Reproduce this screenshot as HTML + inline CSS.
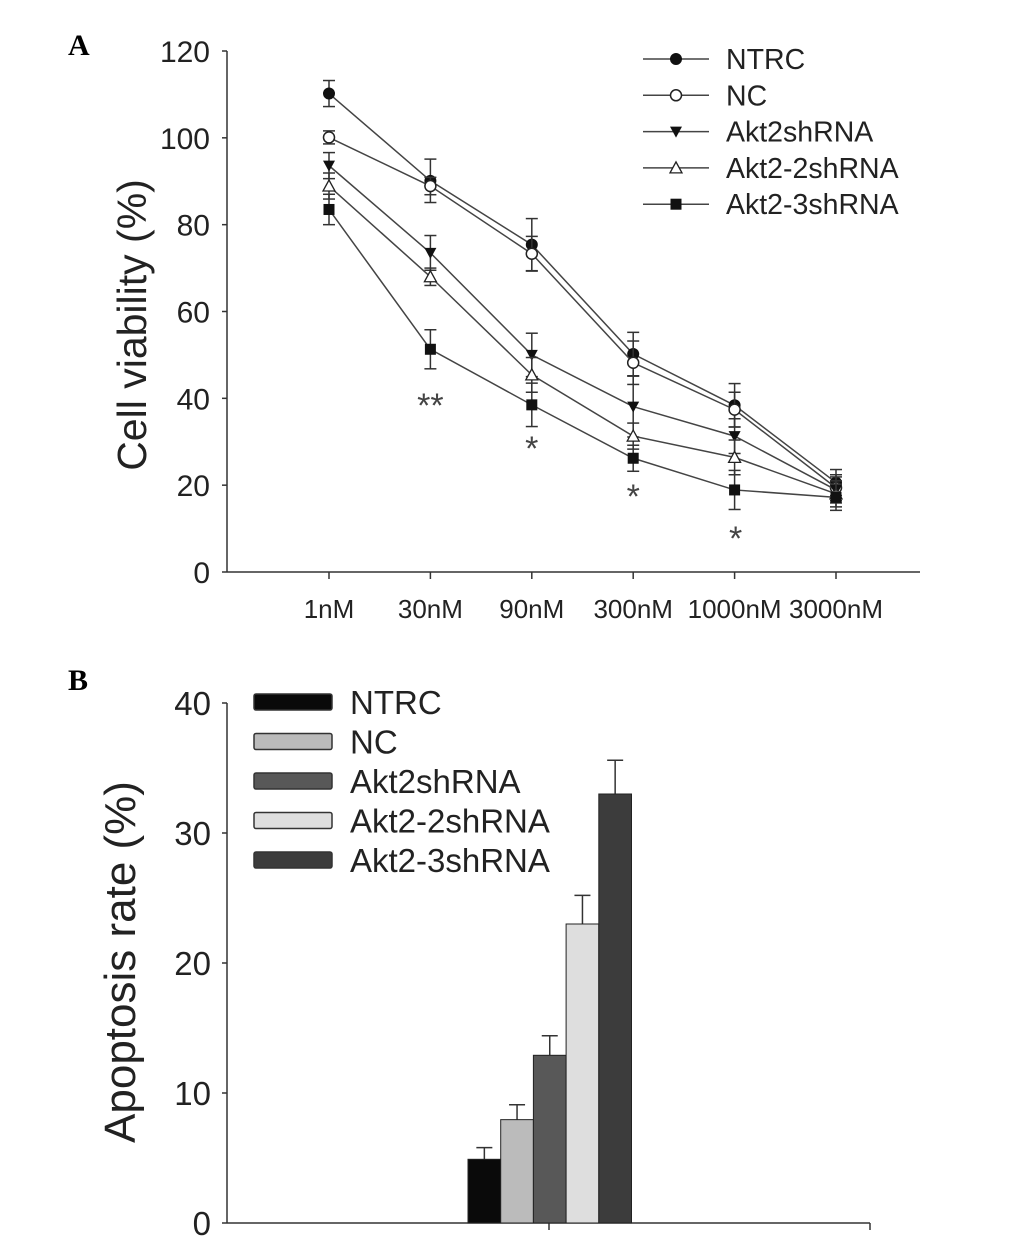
<!DOCTYPE html>
<html><head><meta charset="utf-8"><style>
html,body{margin:0;padding:0;background:#fff;}
svg{display:block;font-family:"Liberation Sans",Arial,sans-serif;}
</style></head><body>
<svg id="fig" width="1033" height="1250" viewBox="0 0 1033 1250">
<text x="68" y="55" font-family="Liberation Serif,serif" font-weight="bold" font-size="30">A</text>
<text x="68" y="690" font-family="Liberation Serif,serif" font-weight="bold" font-size="30">B</text>
<text transform="translate(146,325) rotate(-90)" text-anchor="middle" font-size="41" fill="#222">Cell viability (%)</text>
<text transform="translate(135,962) rotate(-90)" text-anchor="middle" font-size="44" fill="#222">Apoptosis rate (%)</text>
<g id="pa"></g>
<g id="pb"></g>
</svg>
<script>
const NS="http://www.w3.org/2000/svg";
const concentrations=["1nM","30nM","90nM","300nM","1000nM","3000nM"];
const seriesNames=["NTRC","NC","Akt2shRNA","Akt2-2shRNA","Akt2-3shRNA"];
const ntrcVals=[110.2,90.1,75.4,50.2,38.4,20.6];
const ncVals=[100.1,88.9,73.3,48.2,37.4,19.4];
const akt2Vals=[93.6,73.5,50,38.1,31.3,18.9];
const akt22Vals=[88.9,68,45.4,31.3,26.4,18];
const akt23Vals=[83.5,51.3,38.5,26.2,18.9,17.2];
const ntrcErr=[3,5,6,5,5,3];
const ncErr=[1.5,2,4,5,4,3];
const akt2Err=[3,4,5,7,4,3];
const akt22Err=[3,2,4,3,4,3];
const akt23Err=[3.5,4.5,5,3,4.5,3];
const yTicksA=[0,20,40,60,80,100,120];
const sigMarks=["","**","*","*","*",""];
const barNames=["NTRC","NC","Akt2shRNA","Akt2-2shRNA","Akt2-3shRNA"];
const barVals=[4.9,7.95,12.9,23,33];
const barErr=[0.9,1.15,1.5,2.2,2.6];
const yTicksB=[0,10,20,30,40];

function mk(tag,attrs,parent){const e=document.createElementNS(NS,tag);for(const k in attrs)e.setAttribute(k,attrs[k]);parent.appendChild(e);return e;}

// Panel A
const pa=document.getElementById('pa');
const ax0=227, axEnd=920, y0A=572, y120A=51;
const yA=v=>y0A-(v/120)*(y0A-y120A);
const xA=i=>329+i*101.4;
let e;
e=mk('line',{x1:ax0,y1:y120A,x2:ax0,y2:y0A,stroke:'#333','stroke-width':1.5},pa);


e=mk('line',{x1:ax0,y1:y0A,x2:axEnd,y2:y0A,stroke:'#333','stroke-width':1.5},pa);


yTicksA.forEach(v=>{
  mk('line',{x1:ax0-5,y1:yA(v),x2:ax0,y2:yA(v),stroke:'#333','stroke-width':1.5},pa);
  const t=mk('text',{x:ax0-17,y:yA(v)+11,'text-anchor':'end','font-size':30,fill:'#222'},pa);t.textContent=v;
  
  
});
concentrations.forEach((c,i)=>{
  mk('line',{x1:xA(i),y1:y0A,x2:xA(i),y2:y0A+7,stroke:'#333','stroke-width':1.5},pa);
  const t=mk('text',{x:xA(i),y:618,'text-anchor':'middle','font-size':26,fill:'#222'},pa);t.textContent=c;
  
  
  if(sigMarks[i]){const s=mk('text',{x:xA(i)+(i===4?1:0),y:[0,417,460,508,550,0][i],'text-anchor':'middle','font-size':34,fill:'#444'},pa);s.textContent=sigMarks[i];
    
    }
});
const allVals=[ntrcVals,ncVals,akt2Vals,akt22Vals,akt23Vals];
const allErr=[ntrcErr,ncErr,akt2Err,akt22Err,akt23Err];
const markers=['circle-f','circle-o','tri-down','tri-up-o','square'];
function marker(type,x,y,parent){
  if(type==='circle-f')return mk('circle',{cx:x,cy:y,r:5.5,fill:'#111',stroke:'#111'},parent);
  if(type==='circle-o')return mk('circle',{cx:x,cy:y,r:5.5,fill:'#fff',stroke:'#222','stroke-width':1.5},parent);
  if(type==='tri-down')return mk('polygon',{points:`${x-6},${y-5} ${x+6},${y-5} ${x},${y+6}`,fill:'#111'},parent);
  if(type==='tri-up-o')return mk('polygon',{points:`${x-6},${y+5} ${x+6},${y+5} ${x},${y-6}`,fill:'#fff',stroke:'#222','stroke-width':1.3},parent);
  return mk('rect',{x:x-5.5,y:y-5.5,width:11,height:11,fill:'#111'},parent);
}
allVals.forEach((vals,s)=>{
  const g=mk('g',{},pa);
  
  
  const pts=vals.map((v,i)=>xA(i)+','+yA(v)).join(' ');
  mk('polyline',{points:pts,fill:'none',stroke:'#444','stroke-width':1.5},g);
  vals.forEach((v,i)=>{
    const er=allErr[s][i],x=xA(i);
    mk('line',{x1:x,y1:yA(v+er),x2:x,y2:yA(v-er),stroke:'#333','stroke-width':1.5},g);
    mk('line',{x1:x-6,y1:yA(v+er),x2:x+6,y2:yA(v+er),stroke:'#333','stroke-width':1.5},g);
    mk('line',{x1:x-6,y1:yA(v-er),x2:x+6,y2:yA(v-er),stroke:'#333','stroke-width':1.5},g);
    const m=marker(markers[s],x,yA(v),g);
    
    
  });
});
seriesNames.forEach((n,s)=>{
  const y=59+s*36.3;
  const g=mk('g',{},pa);
  
  
  mk('line',{x1:643,y1:y,x2:709,y2:y,stroke:'#444','stroke-width':1.5},g);
  marker(markers[s],676,y,g);
  const t=mk('text',{x:726,y:y+10,'font-size':28.5,fill:'#222'},g);t.textContent=n;
});

// Panel B
const pb=document.getElementById('pb');
const bx0=227,bxEnd=870,y0B=1223,y40B=703;
const yB=v=>y0B-(v/40)*(y0B-y40B);
const barColors=['#0a0a0a','#bbbbbb','#585858','#dedede','#3c3c3c'];
e=mk('line',{x1:bx0,y1:y40B,x2:bx0,y2:y0B,stroke:'#333','stroke-width':1.5},pb);


e=mk('line',{x1:bx0,y1:y0B,x2:bxEnd,y2:y0B,stroke:'#333','stroke-width':1.5},pb);


mk('line',{x1:549,y1:y0B,x2:549,y2:y0B+7,stroke:'#333','stroke-width':1.5},pb);
mk('line',{x1:bxEnd,y1:y0B,x2:bxEnd,y2:y0B+7,stroke:'#333','stroke-width':1.5},pb);
yTicksB.forEach(v=>{
  mk('line',{x1:bx0-5,y1:yB(v),x2:bx0,y2:yB(v),stroke:'#333','stroke-width':1.5},pb);
  const t=mk('text',{x:bx0-16,y:yB(v)+12,'text-anchor':'end','font-size':33,fill:'#222'},pb);t.textContent=v;
  
  
});
const bw=32.7, bStart=468;
barVals.forEach((v,i)=>{
  const x=bStart+i*bw;
  const er=barErr[i];
  mk('line',{x1:x+bw/2,y1:yB(v),x2:x+bw/2,y2:yB(v+er),stroke:'#333','stroke-width':1.5},pb);
  mk('line',{x1:x+bw/2-8,y1:yB(v+er),x2:x+bw/2+8,y2:yB(v+er),stroke:'#333','stroke-width':1.5},pb);
  const r=mk('rect',{x:x,y:yB(v),width:bw,height:y0B-yB(v),fill:barColors[i],stroke:'#222','stroke-width':1},pb);
  
  
});
barNames.forEach((n,i)=>{
  const y=702+i*39.5;
  const g=mk('g',{},pb);
  
  
  mk('rect',{x:254,y:y-8,width:78,height:16,fill:barColors[i],stroke:'#333','stroke-width':1.5,rx:2},g);
  const t=mk('text',{x:350,y:y+12,'font-size':33,fill:'#222'},g);t.textContent=n;
});
</script>
</body></html>
